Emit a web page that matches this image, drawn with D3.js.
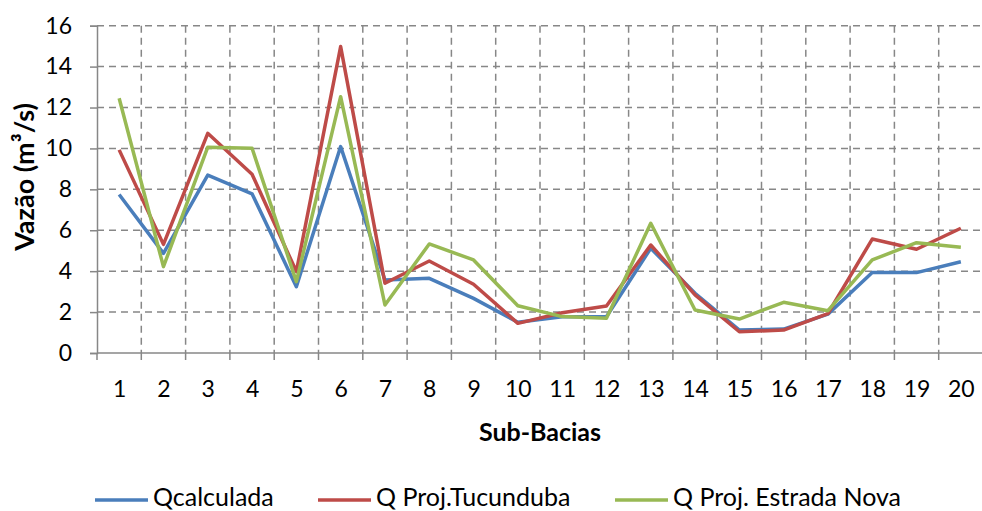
<!DOCTYPE html>
<html><head><meta charset="utf-8">
<script src="https://cdn.jsdelivr.net/npm/d3@7"></script>
<style>body{margin:0;background:#fff}text{font-family:Lato,"Open Sans",sans-serif}</style>
</head><body><svg id="c" width="982" height="511"></svg>
<script>
const categories = ["1","2","3","4","5","6","7","8","9","10","11","12","13","14","15","16","17","18","19","20"];
const qCalculada = [7.75,4.87,8.7,7.78,3.24,10.09,3.57,3.65,2.67,1.5,1.77,1.77,5.12,2.92,1.12,1.17,1.9,3.94,3.93,4.46];
const qTucunduba = [9.93,5.31,10.74,8.74,3.98,14.98,3.41,4.5,3.36,1.45,1.97,2.3,5.28,2.84,1.04,1.12,1.93,5.57,5.07,6.1];
const qEstradaNova = [12.45,4.22,10.06,10.01,3.49,12.53,2.35,5.33,4.55,2.31,1.78,1.7,6.34,2.1,1.66,2.48,2.07,4.55,5.39,5.17];
const yTicks = [0,2,4,6,8,10,12,14,16];
const seriesNames = ["Qcalculada","Q Proj.Tucunduba","Q Proj. Estrada Nova"];
const colors = ["#4A7EBB","#BE4B48","#98B954"];
const series = [qCalculada,qTucunduba,qEstradaNova];

const svg = d3.select("#c");
const L=97,R=983,T=25.7,B=353;
const x = d3.scalePoint().domain(categories).range([L,R]).padding(0.5);
const band = x.step();
const y = d3.scaleLinear().domain([0,16]).range([B,T]);
const grid="#878787";

// horizontal gridlines
svg.append("g").selectAll("line").data(yTicks.filter(d=>d>0)).join("line")
 .attr("x1",L).attr("x2",R).attr("y1",d=>y(d)).attr("y2",d=>y(d))
 .attr("stroke",grid).attr("stroke-width",1.5).attr("stroke-dasharray","7,5");
// vertical gridlines at boundaries
const bounds = d3.range(1,categories.length).map(k=>L+k*band);
svg.append("g").selectAll("line").data(bounds).join("line")
 .attr("x1",d=>d).attr("x2",d=>d).attr("y1",T).attr("y2",B)
 .attr("stroke",grid).attr("stroke-width",1.5).attr("stroke-dasharray","7,5");

// axes
const yAxis = d3.axisLeft(y).tickValues(yTicks).tickSize(7).tickPadding(18);
const gy = svg.append("g").attr("transform",`translate(${L},0)`).call(yAxis);
gy.selectAll("text").attr("font-size",23).attr("fill","#000");
gy.selectAll("line,path").attr("stroke",grid).attr("stroke-width",1.5);

const gx = svg.append("g").attr("transform",`translate(0,${B})`).call(d3.axisBottom(x).tickSize(0).tickPadding(28));
gx.select("path").remove();
gx.selectAll("text").attr("font-size",23).attr("fill","#000");
svg.append("line").attr("x1",L).attr("x2",R).attr("y1",B).attr("y2",B).attr("stroke",grid).attr("stroke-width",1.5);
svg.append("g").selectAll("line").data(d3.range(0,categories.length+1).map(k=>L+k*band)).join("line")
 .attr("x1",d=>d).attr("x2",d=>d).attr("y1",B).attr("y2",B+7).attr("stroke",grid).attr("stroke-width",1.5);

// lines
const line = d3.line().x((d,i)=>x(categories[i])).y(d=>y(d));
series.forEach((s,i)=>{
  svg.append("path").datum(s).attr("d",line).attr("fill","none")
   .attr("stroke",colors[i]).attr("stroke-width",3.5).attr("stroke-linejoin","round");
});

// titles
svg.append("text").attr("x",540).attr("y",441).attr("text-anchor","middle")
 .attr("font-size",25).attr("font-weight","bold").text("Sub-Bacias");
svg.append("text").attr("transform","translate(34,177) rotate(-90)").attr("text-anchor","middle")
 .attr("font-size",27).attr("font-weight","bold").text("Vazão (m³/s)");

// legend
const legX=[95,318,615];
seriesNames.forEach((n,i)=>{
  svg.append("line").attr("x1",legX[i]).attr("x2",legX[i]+53).attr("y1",500).attr("y2",500)
   .attr("stroke",colors[i]).attr("stroke-width",3.5);
  svg.append("text").attr("x",legX[i]+58).attr("y",506).attr("font-size",25).text(n);
});
</script></body></html>
